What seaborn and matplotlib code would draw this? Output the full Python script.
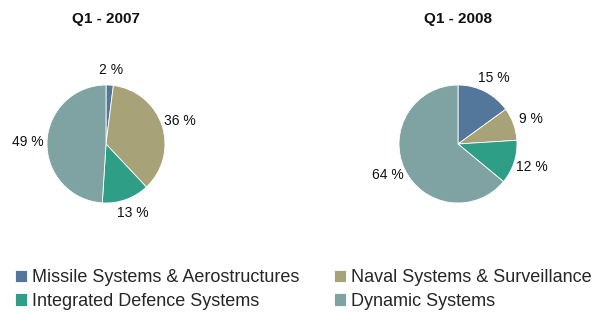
import matplotlib
matplotlib.use("Agg")
import matplotlib.pyplot as plt
import numpy as np
import seaborn as sns

# data
segments = ["Missile Systems & Aerostructures", "Naval Systems & Surveillance",
            "Integrated Defence Systems", "Dynamic Systems"]
share_2007 = [2, 36, 13, 49]
share_2008 = [15, 9, 12, 64]
titles = ["Q1 - 2007", "Q1 - 2008"]
colors = ["#53779a", "#a7a277", "#2e9e87", "#7fa3a3"]

sns.set_theme(style="white")
plt.rcParams["font.family"] = ["Liberation Sans", "DejaVu Sans"]

W, H = 608, 313
fig = plt.figure(figsize=(W / 100, H / 100), dpi=100)
palette = sns.color_palette(colors)

r = 59
centers = [(106, 144), (458, 144)]
wedges_all = []
for (cx, cy), vals, title in zip(centers, [share_2007, share_2008], titles):
    ax = fig.add_axes([(cx - r) / W, (H - cy - r) / H, 2 * r / W, 2 * r / H])
    wedges, _ = ax.pie(vals, colors=palette, startangle=90, counterclock=False,
                       radius=1, wedgeprops=dict(linewidth=0.6, edgecolor="white"))
    # percentage labels outside the pie
    cum = 0
    for v in vals:
        mid = np.deg2rad(90 - (cum + v / 2) * 3.6)
        cum += v
        ax.text(1.32 * np.cos(mid), 1.25 * np.sin(mid), f"{v} %", ha="center",
                va="center", fontsize=10, color="#111111")
    ax.set_xlim(-1, 1)
    ax.set_ylim(-1, 1)
    ax.set_aspect("equal")
    ax.axis("off")
    fig.text(cx / W, 1 - 19 / H, title, ha="center", va="center",
             fontsize=11, fontweight="bold", color="#111111")
    wedges_all.append(wedges)

w = wedges_all[0]
handles = [w[0], w[2], w[1], w[3]]
labels = [segments[0], segments[2], segments[1], segments[3]]
fig.legend(handles, labels, ncol=2, loc="upper left",
           bbox_to_anchor=(15 / W, 1 - 269 / H), frameon=False,
           fontsize=13, handlelength=0.66, handleheight=0.66, handletextpad=0.3,
           columnspacing=1.9, labelspacing=0.38, borderaxespad=0, borderpad=0)

fig.savefig("out.png", dpi=100)
